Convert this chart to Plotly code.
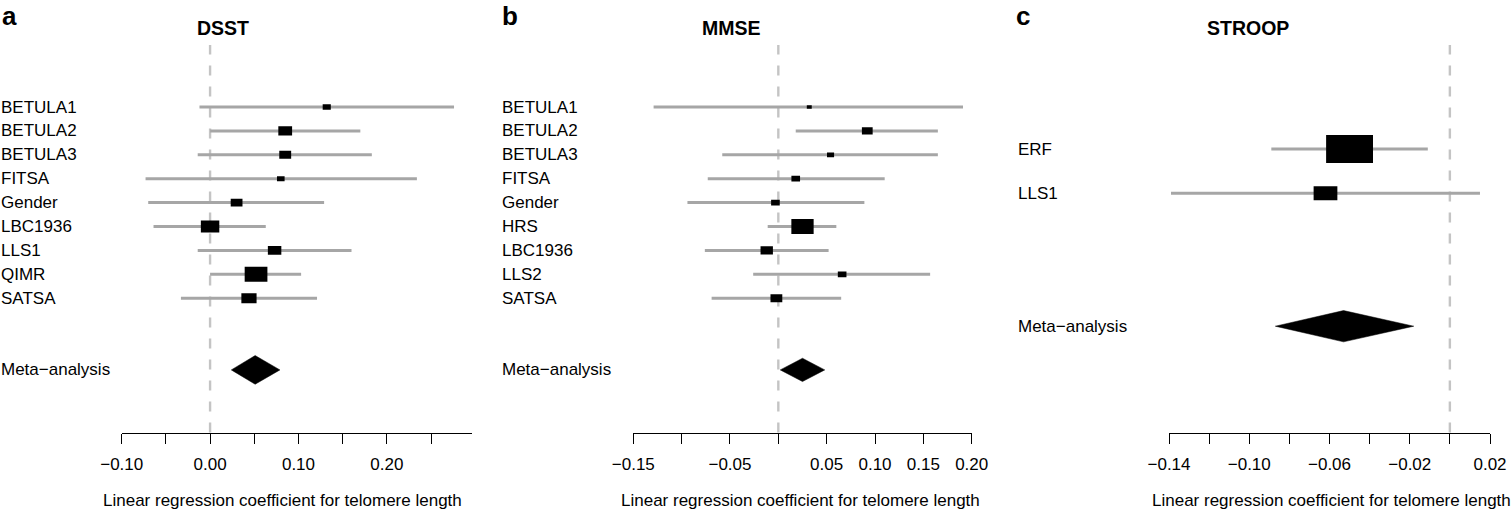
import plotly.graph_objects as go

W, H = 1511, 510

# ---------------- data ----------------
# Panel a: DSST
dsst_studies = ["BETULA1", "BETULA2", "BETULA3", "FITSA", "Gender", "LBC1936", "LLS1", "QIMR", "SATSA"]
dsst_est = [0.132, 0.085, 0.085, 0.080, 0.030, 0.000, 0.073, 0.052, 0.044]
dsst_lo = [-0.012, 0.000, -0.014, -0.073, -0.070, -0.064, -0.014, 0.000, -0.033]
dsst_hi = [0.276, 0.170, 0.183, 0.234, 0.129, 0.063, 0.160, 0.103, 0.121]
dsst_meta = [0.051, 0.024, 0.079]  # estimate, lower, upper

# Panel b: MMSE
mmse_studies = ["BETULA1", "BETULA2", "BETULA3", "FITSA", "Gender", "HRS", "LBC1936", "LLS2", "SATSA"]
mmse_est = [0.032, 0.092, 0.054, 0.018, -0.003, 0.025, -0.012, 0.066, -0.002]
mmse_lo = [-0.129, 0.018, -0.058, -0.073, -0.094, -0.011, -0.076, -0.026, -0.069]
mmse_hi = [0.191, 0.165, 0.165, 0.110, 0.089, 0.060, 0.052, 0.157, 0.065]
mmse_meta = [0.025, 0.002, 0.048]

# Panel c: STROOP
stroop_studies = ["ERF", "LLS1"]
stroop_est = [-0.050, -0.062]
stroop_lo = [-0.089, -0.139]
stroop_hi = [-0.011, 0.015]
stroop_meta = [-0.053, -0.087, -0.018]

# ticks
dsst_ticks = [-0.10, -0.05, 0.00, 0.05, 0.10, 0.15, 0.20, 0.25]
dsst_ticklabels = ["\u22120.10", "", "0.00", "", "0.10", "", "0.20", ""]
mmse_ticks = [-0.15, -0.10, -0.05, 0.00, 0.05, 0.10, 0.15, 0.20]
mmse_ticklabels = ["\u22120.15", "", "\u22120.05", "", "0.05", "0.10", "0.15", "0.20"]
stroop_ticks = [-0.14, -0.12, -0.10, -0.08, -0.06, -0.04, -0.02, 0.00, 0.02]
stroop_ticklabels = ["\u22120.14", "", "\u22120.10", "", "\u22120.06", "", "\u22120.02", "", "0.02"]

panel_letters = ["a", "b", "c"]
panel_titles = ["DSST", "MMSE", "STROOP"]
meta_label = "Meta\u2212analysis"
x_title = "Linear regression coefficient for telomere length"

# ---------------- layout helpers ----------------
FONT = "Liberation Sans, Arial, Helvetica, sans-serif"
CI_COLOR = "#a6a6a6"
REF_COLOR = "#c4c4c4"
TOP_PX, BOT_PX = 45.0, 432.5

panels = [
    dict(studies=dsst_studies, est=dsst_est, lo=dsst_lo, hi=dsst_hi, meta=dsst_meta,
         ticks=dsst_ticks, ticklabels=dsst_ticklabels,
         dom=(121.7, 471.7), xr=(-0.10, 0.296), first_row_px=107.0, row_px=23.9,
         aspect=1.51, diamond_px=28.7, label_px=-1.5, title_px=222.5, xtitle_px=282.0,
         letter_px=0.5),
    dict(studies=mmse_studies, est=mmse_est, lo=mmse_lo, hi=mmse_hi, meta=mmse_meta,
         ticks=mmse_ticks, ticklabels=mmse_ticklabels,
         dom=(633.3, 971.7), xr=(-0.15, 0.20), first_row_px=107.0, row_px=23.9,
         aspect=1.48, diamond_px=23.3, label_px=499.7, title_px=731.3, xtitle_px=800.3,
         letter_px=501.0),
    dict(studies=stroop_studies, est=stroop_est, lo=stroop_lo, hi=stroop_hi, meta=stroop_meta,
         ticks=stroop_ticks, ticklabels=stroop_ticklabels,
         dom=(1169.0, 1490.0), xr=(-0.14, 0.02), first_row_px=149.0, row_px=44.3,
         aspect=1.68, diamond_px=31.3, label_px=1016.3, title_px=1248.3, xtitle_px=1331.0,
         letter_px=1014.5),
]

fig = go.Figure()
shapes = []
annotations = []
layout_axes = {}

ydom = (1 - BOT_PX / H, 1 - TOP_PX / H)

for i, p in enumerate(panels):
    n = i + 1
    xa = "x" if n == 1 else f"x{n}"
    ya = "y" if n == 1 else f"y{n}"
    xkey = "xaxis" if n == 1 else f"xaxis{n}"
    ykey = "yaxis" if n == 1 else f"yaxis{n}"

    rows = list(range(len(p["studies"])))
    meta_row = len(p["studies"]) + 2
    y_top = (TOP_PX - p["first_row_px"]) / p["row_px"]
    y_bot = (BOT_PX - p["first_row_px"]) / p["row_px"]

    layout_axes[xkey] = dict(
        domain=[p["dom"][0] / W, p["dom"][1] / W], range=list(p["xr"]), anchor=ya,
        showline=True, linecolor="black", linewidth=1.3, ticks="outside", ticklen=10,
        tickwidth=1.3, tickcolor="black", tickmode="array", tickvals=p["ticks"],
        ticktext=p["ticklabels"], tickfont=dict(size=17, color="black", family=FONT),
        showgrid=False, zeroline=False, fixedrange=True, ticklabelstandoff=6,
        automargin=False,
    )
    layout_axes[ykey] = dict(
        domain=list(ydom), range=[y_bot, y_top], anchor=xa, visible=False,
        showgrid=False, zeroline=False, fixedrange=True, automargin=False,
    )

    # reference dashed line at 0
    shapes.append(dict(type="line", xref=xa, yref=f"{ya} domain", x0=0, x1=0, y0=0, y1=1,
                       line=dict(color=REF_COLOR, width=2.4, dash="10px,11px"), layer="below"))

    # CI lines
    xs, ys = [], []
    for r, lo, hi in zip(rows, p["lo"], p["hi"]):
        xs += [lo, hi, None]
        ys += [r, r, None]
    fig.add_trace(go.Scatter(x=xs, y=ys, mode="lines", xaxis=xa, yaxis=ya,
                             line=dict(color=CI_COLOR, width=3), hoverinfo="skip",
                             showlegend=False))

    # boxes: size proportional to precision (1 / CI width)
    widths = [hi - lo for lo, hi in zip(p["lo"], p["hi"])]
    wmin = min(widths)
    for r, e, w in zip(rows, p["est"], widths):
        h_px = 0.63 * p["row_px"] * wmin / w
        w_px = p["aspect"] * h_px
        shapes.append(dict(type="rect", xref=xa, yref=ya,
                           xsizemode="pixel", xanchor=e, x0=-w_px / 2, x1=w_px / 2,
                           ysizemode="pixel", yanchor=r, y0=-h_px / 2, y1=h_px / 2,
                           fillcolor="black", line=dict(width=0), layer="above"))

    # summary diamond
    m_est, m_lo, m_hi = p["meta"]
    hh = p["diamond_px"] / 2 / p["row_px"]
    fig.add_trace(go.Scatter(
        x=[m_lo, m_est, m_hi, m_est, m_lo],
        y=[meta_row, meta_row - hh, meta_row, meta_row + hh, meta_row],
        mode="lines", fill="toself", fillcolor="black", line=dict(color="black", width=0.5),
        xaxis=xa, yaxis=ya, hoverinfo="skip", showlegend=False))

    # row labels
    for r, s in zip(rows, p["studies"]):
        annotations.append(dict(text=s, xref="paper", yref=ya, x=p["label_px"] / W, y=r,
                                xanchor="left", yanchor="middle", showarrow=False,
                                font=dict(size=17, color="black", family=FONT)))
    annotations.append(dict(text=meta_label, xref="paper", yref=ya, x=p["label_px"] / W, y=meta_row,
                            xanchor="left", yanchor="middle", showarrow=False,
                            font=dict(size=17, color="black", family=FONT)))

    # title
    annotations.append(dict(text=f"<b>{panel_titles[i]}</b>", xref="paper", yref="paper",
                            x=p["title_px"] / W, y=1 - 27.8 / H, xanchor="center", yanchor="middle",
                            showarrow=False, font=dict(size=19.5, color="black", family=FONT)))
    # panel letter
    annotations.append(dict(text=f"<b>{panel_letters[i]}</b>", xref="paper", yref="paper",
                            x=p["letter_px"] / W, y=1.0, xanchor="left",
                            yanchor="top", showarrow=False, borderpad=0,
                            font=dict(size=26, color="black", family=FONT)))
    # x-axis title
    annotations.append(dict(text=x_title, xref="paper", yref="paper",
                            x=p["xtitle_px"] / W, y=1 - 500.0 / H, xanchor="center",
                            yanchor="middle", showarrow=False,
                            font=dict(size=17, color="black", family=FONT)))

fig.update_layout(
    width=W, height=H, autosize=False,
    margin=dict(l=0, r=0, t=0, b=0, pad=0, autoexpand=False),
    paper_bgcolor="white", plot_bgcolor="white",
    shapes=shapes, annotations=annotations, showlegend=False,
    font=dict(family=FONT, color="black"),
    **layout_axes,
)

fig.write_html("out.html", config={"displayModeBar": False})
